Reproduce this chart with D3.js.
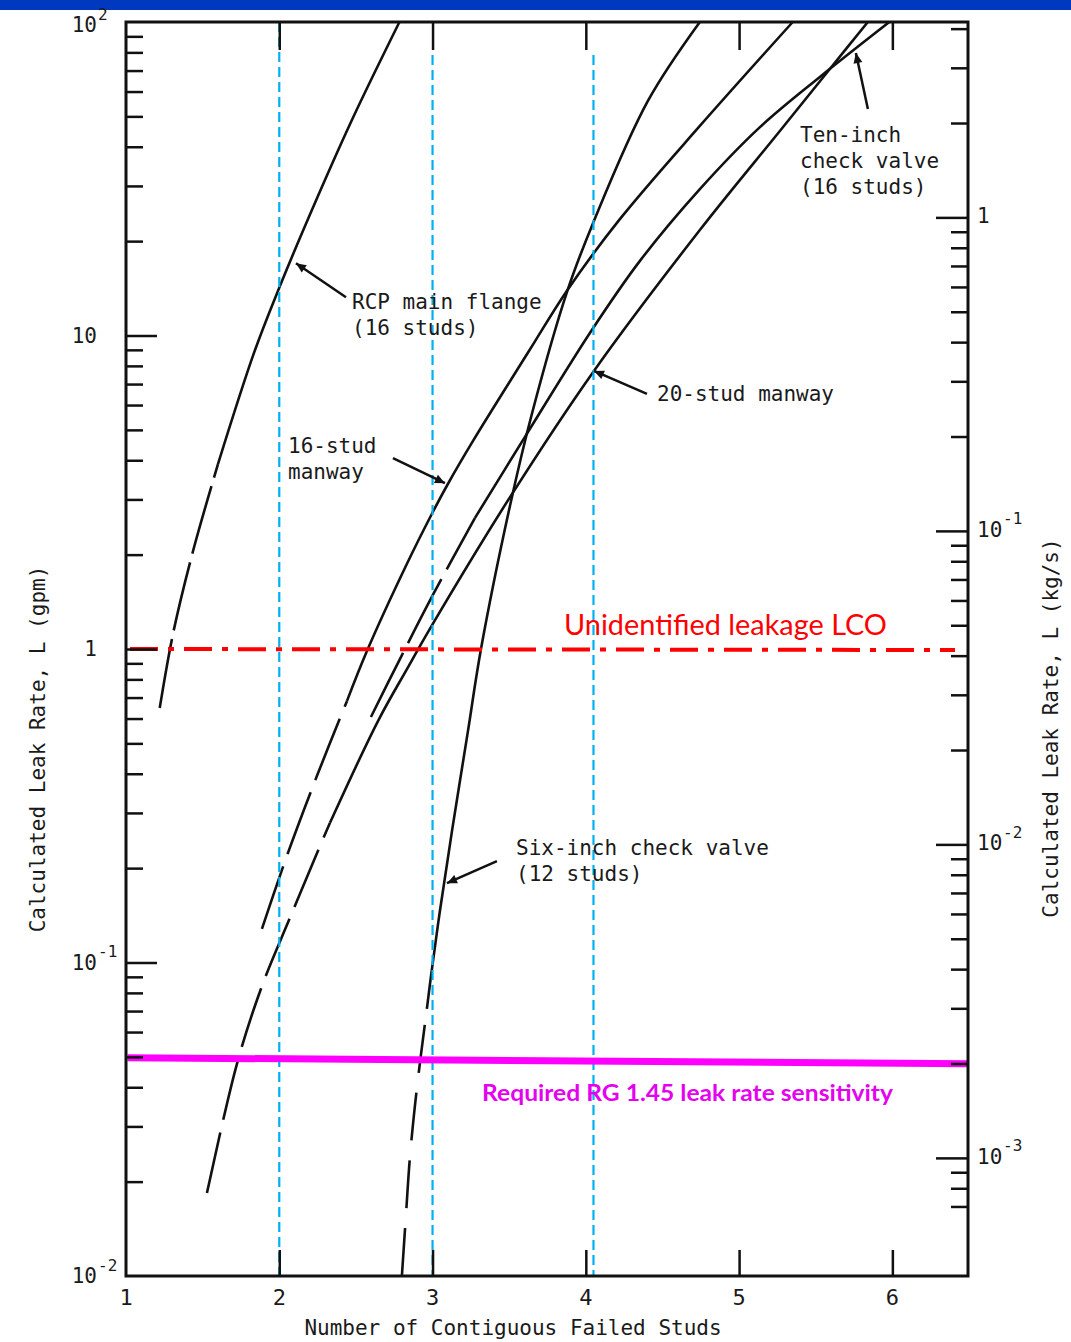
<!DOCTYPE html>
<html>
<head>
<meta charset="utf-8">
<script src="https://cdn.jsdelivr.net/npm/d3@7"></script>
<style>
    body { margin: 0; background: #fff; }
    svg { display: block; }
    .mono { font-family: "DejaVu Sans Mono", monospace; fill: #1a1a1a; }
    .tick line { stroke: #111; stroke-width: 2.5; }
</style>
</head>
<body>
<div id="chart"></div>
<script>
// x: number of contiguous failed studs, y: leak rate in gpm
const xTicks = [1, 2, 3, 4, 5, 6];
const gpmDecades = [100, 10, 1, 0.1, 0.01];
const kgsDecades = [1, 0.1, 0.01, 0.001];
const gpmToKgs = 0.042;   // right axis is the same rate in kg/s

// curves, [studs, gpm]
const rcpMainFlange = [
    [1.22, 0.648], [1.307, 1.12], [1.437, 2.05], [1.60, 3.89], [1.835, 8.80],
    [1.992, 13.9], [2.239, 26.9], [2.48, 49.4], [2.784, 100]
];
const sixInchValve = [
    [2.80, 0.0100], [2.826, 0.0155], [2.853, 0.0241], [2.898, 0.0398], [2.963, 0.0711],
    [2.99, 0.0906], [3.048, 0.146], [3.127, 0.263], [3.231, 0.547], [3.316, 1.0],
    [3.505, 2.86], [3.648, 5.62], [3.880, 13.9], [4.053, 23.2], [4.405, 56.0], [4.744, 100]
];
const stud16Manway = [
    [1.887, 0.128], [2.05, 0.219], [2.246, 0.394], [2.442, 0.683], [2.572, 0.985],
    [2.833, 1.87], [2.996, 2.70], [3.10, 3.36], [3.264, 4.61], [3.629, 8.92],
    [3.877, 13.9], [4.222, 23.5], [4.744, 46.6], [5.35, 100]
];
const tenInchValve = [
    [2.598, 0.607], [2.774, 0.902], [3.003, 1.49], [3.277, 2.62], [3.603, 4.75],
    [4.033, 10.3], [4.353, 17.3], [4.744, 29.3], [5.136, 46.2], [5.527, 66.8], [5.98, 100]
];
const stud20Manway = [
    [1.528, 0.0184], [1.724, 0.0475], [1.887, 0.0841], [2.07, 0.139], [2.252, 0.227],
    [2.331, 0.279], [2.644, 0.589], [2.833, 0.863], [2.996, 1.19], [3.518, 3.12],
    [4.053, 7.71], [4.744, 21.7], [5.266, 44.9], [5.592, 70.8], [5.84, 100]
];

// studs value where each curve turns from dashed (extrapolated) to solid
const solidFrom = { rcp: 1.60, six: 2.963, s16: 2.442, ten: 3.277, s20: 2.331 };

// reference lines
const studMarkers = [2, 3, 4.05];
const lcoLimit = 1;                                   // gpm
const rgSensitivity = [[1.01, 0.0497], [6.5, 0.0475]]; // gpm

class LeakRateChart {
    constructor(_parentElement) {
        this.parentElement = _parentElement;
        this.initVis();
    }

    initVis() {
        let vis = this;

        vis.left = 126; vis.right = 968; vis.top = 22; vis.bottom = 1276;

        vis.svg = d3.select("#" + vis.parentElement).append("svg")
            .attr("width", 1071)
            .attr("height", 1342);

        vis.x = d3.scaleLinear().domain([1, 6.5]).range([vis.left, vis.right + 1]);
        vis.y = d3.scaleLog().domain([0.01, 100]).range([vis.bottom, vis.top]);
        vis.yKgs = d3.scaleLog().domain([0.01 * gpmToKgs, 100 * gpmToKgs]).range([vis.bottom, vis.top]);

        // slide header band
        vis.svg.append("rect").attr("x", 0).attr("y", 0).attr("width", 1071).attr("height", 10)
            .attr("fill", "#0039bf");

        vis.svg.append("defs").append("marker")
            .attr("id", "arrowhead")
            .attr("viewBox", "0 0 10 10")
            .attr("refX", 10).attr("refY", 5)
            .attr("markerWidth", 15).attr("markerHeight", 10)
            .attr("markerUnits", "userSpaceOnUse")
            .attr("orient", "auto")
            .append("path").attr("d", "M0,0.5 L10,5 L0,9.5 Z").attr("fill", "#111");

        vis.drawCurves();
        vis.drawReferenceLines();
        vis.drawAxes();
        vis.drawNotes();
    }

    drawCurves() {
        let vis = this;
        let line = d3.line()
            .x(d => vis.x(d[0]))
            .y(d => vis.y(d[1]))
            .curve(d3.curveCatmullRom.alpha(0.5));

        let curves = [
            { pts: rcpMainFlange, from: solidFrom.rcp, dash: "70,9" },
            { pts: sixInchValve, from: solidFrom.six, dash: "48,20" },
            { pts: stud16Manway, from: solidFrom.s16, dash: "66,13" },
            { pts: tenInchValve, from: solidFrom.ten, dash: "72,11" },
            { pts: stud20Manway, from: solidFrom.s20, dash: "62,13" }
        ];

        let g = vis.svg.append("g").attr("fill", "none").attr("stroke", "#111")
            .attr("stroke-width", 2.6);

        curves.forEach(c => {
            g.append("path")
                .attr("d", line(c.pts.filter(p => p[0] <= c.from)))
                .attr("stroke-dasharray", c.dash);
            g.append("path")
                .attr("d", line(c.pts.filter(p => p[0] >= c.from)));
        });
    }

    drawReferenceLines() {
        let vis = this;

        vis.svg.selectAll(".stud-marker")
            .data(studMarkers)
            .enter().append("line")
            .attr("class", "stud-marker")
            .attr("x1", d => vis.x(d)).attr("x2", d => vis.x(d))
            .attr("y1", d => d > 2.5 ? 55 : vis.top)
            .attr("y2", vis.bottom)
            .attr("stroke", "#00b0f0")
            .attr("stroke-width", 2.2)
            .attr("stroke-dasharray", "10,5");

        vis.svg.append("line")
            .attr("x1", vis.left + 4).attr("x2", vis.right - 13)
            .attr("y1", vis.y(lcoLimit)).attr("y2", vis.y(lcoLimit) + 1)
            .attr("stroke", "#ff0000")
            .attr("stroke-width", 4)
            .attr("stroke-dasharray", "28,10,6,10");

        vis.svg.append("line")
            .attr("x1", vis.x(rgSensitivity[0][0])).attr("y1", vis.y(rgSensitivity[0][1]))
            .attr("x2", vis.x(rgSensitivity[1][0])).attr("y2", vis.y(rgSensitivity[1][1]))
            .attr("stroke", "#ff00ff")
            .attr("stroke-width", 7);

        vis.svg.append("text")
            .attr("x", 564).attr("y", 635)
            .attr("textLength", 323).attr("lengthAdjust", "spacingAndGlyphs")
            .style("font-family", "Lato, 'Open Sans', sans-serif")
            .style("font-size", "28px")
            .attr("fill", "#ff0000")
            .text("Unidentified leakage LCO");

        vis.svg.append("text")
            .attr("x", 482).attr("y", 1101)
            .attr("textLength", 411).attr("lengthAdjust", "spacingAndGlyphs")
            .style("font-family", "Lato, 'Open Sans', sans-serif")
            .style("font-size", "23px")
            .style("font-weight", "bold")
            .attr("fill", "#e600f0")
            .text("Required RG 1.45 leak rate sensitivity");
    }

    drawAxes() {
        let vis = this;
        let isDecade = (v, list) => list.some(d => Math.abs(v / d - 1) < 1e-6);

        let minorGpm = vis.y.ticks().filter(v => !isDecade(v, gpmDecades));
        let majorGpm = gpmDecades.filter(d => d > 0.01 && d < 100);
        let minorKgs = vis.yKgs.ticks().filter(v => !isDecade(v, kgsDecades) && v >= 0.0007);

        let clean = g => g.select(".domain").remove();

        vis.svg.append("g").attr("transform", `translate(${vis.left},0)`)
            .call(d3.axisRight(vis.y).tickValues(minorGpm).tickSize(17).tickFormat("")).call(clean);
        vis.svg.append("g").attr("transform", `translate(${vis.left},0)`)
            .call(d3.axisRight(vis.y).tickValues(majorGpm).tickSize(31).tickFormat("")).call(clean);

        vis.svg.append("g").attr("transform", `translate(${vis.right},0)`)
            .call(d3.axisLeft(vis.yKgs).tickValues(minorKgs).tickSize(17).tickFormat("")).call(clean);
        vis.svg.append("g").attr("transform", `translate(${vis.right},0)`)
            .call(d3.axisLeft(vis.yKgs).tickValues(kgsDecades).tickSize(32).tickFormat("")).call(clean);

        vis.svg.append("g").attr("transform", `translate(0,${vis.top})`)
            .call(d3.axisBottom(vis.x).tickValues(xTicks.slice(1)).tickSize(28).tickFormat("")).call(clean);
        vis.svg.append("g").attr("transform", `translate(0,${vis.bottom})`)
            .call(d3.axisTop(vis.x).tickValues(xTicks.slice(1)).tickSize(26).tickFormat("")).call(clean);

        // frame
        vis.svg.append("rect")
            .attr("x", vis.left).attr("y", vis.top)
            .attr("width", vis.right - vis.left).attr("height", vis.bottom - vis.top)
            .attr("fill", "none").attr("stroke", "#111").attr("stroke-width", 3);

        // x tick labels
        vis.svg.selectAll(".xlab")
            .data(xTicks)
            .enter().append("text")
            .attr("class", "mono xlab")
            .attr("x", d => vis.x(d))
            .attr("y", 1305)
            .attr("text-anchor", "middle")
            .style("font-size", "22px")
            .text(d => d);

        // power-of-ten labels
        let powerLabel = (sel, value, xBase, yPos, anchor) => {
            let e = Math.round(Math.log10(value));
            sel.append("text").attr("class", "mono")
                .attr("x", xBase).attr("y", yPos)
                .attr("text-anchor", anchor)
                .attr("dominant-baseline", "central")
                .style("font-size", "21px")
                .text(e === 0 ? "1" : "10");
            if (e !== 0 && e !== 1) {
                let xs = anchor === "end" ? xBase + 1 : xBase + 26;
                sel.append("text").attr("class", "mono")
                    .attr("x", xs).attr("y", yPos - 11)
                    .attr("dominant-baseline", "central")
                    .style("font-size", "16px")
                    .text(e < 0 ? "-" + Math.abs(e) : e);
            }
        };

        gpmDecades.forEach(d => powerLabel(vis.svg, d, 97, vis.y(d) + (d === 100 ? 3 : 0), "end"));
        kgsDecades.forEach(d => powerLabel(vis.svg, d, 977, vis.yKgs(d) - 1, "start"));

        // axis titles
        vis.svg.append("text").attr("class", "mono")
            .attr("x", 513).attr("y", 1335)
            .attr("text-anchor", "middle")
            .style("font-size", "21px")
            .text("Number of Contiguous Failed Studs");

        vis.svg.append("text").attr("class", "mono")
            .attr("transform", "translate(45,749) rotate(-90)")
            .attr("text-anchor", "middle")
            .style("font-size", "21px")
            .text("Calculated Leak Rate, L (gpm)");

        vis.svg.append("text").attr("class", "mono")
            .attr("transform", "translate(1058,728) rotate(-90)")
            .attr("text-anchor", "middle")
            .style("font-size", "21px")
            .text("Calculated Leak Rate, L (kg/s)");
    }

    drawNotes() {
        let vis = this;

        // tip on the curve [studs, gpm], tail as pixel offset from tip, text block position
        let notes = [
            { lines: ["RCP main flange", "(16 studs)"], tx: 352, ty: 309, tip: [2.109, 17.0], tail: [50, 34] },
            { lines: ["16-stud", "manway"], tx: 288, ty: 453, tip: [3.081, 3.38], tail: [-52, -25] },
            { lines: ["20-stud manway"], tx: 657, ty: 401, tip: [4.053, 7.71], tail: [53, 23] },
            { lines: ["Ten-inch", "check valve", "(16 studs)"], tx: 800, ty: 142, tip: [5.762, 79.6], tail: [12, 56] },
            { lines: ["Six-inch check valve", "(12 studs)"], tx: 516, ty: 855, tip: [3.094, 0.179], tail: [50, -22] }
        ];

        notes.forEach(n => {
            let t = vis.svg.append("text").attr("class", "mono")
                .style("font-size", "21px");
            n.lines.forEach((s, i) => {
                t.append("tspan").attr("x", n.tx).attr("y", n.ty + i * 26).text(s);
            });

            let px = vis.x(n.tip[0]), py = vis.y(n.tip[1]);
            vis.svg.append("line")
                .attr("x1", px + n.tail[0]).attr("y1", py + n.tail[1])
                .attr("x2", px).attr("y2", py)
                .attr("stroke", "#111").attr("stroke-width", 2.5)
                .attr("marker-end", "url(#arrowhead)");
        });
    }
}

new LeakRateChart("chart");
</script>
</body>
</html>
